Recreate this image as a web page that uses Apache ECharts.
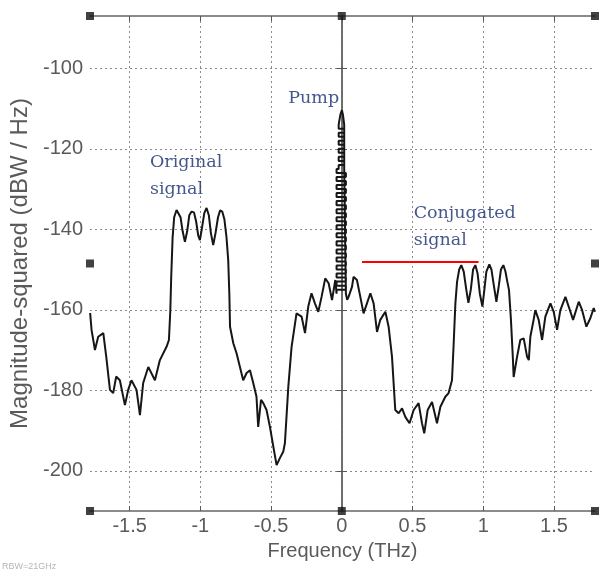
<!DOCTYPE html>
<html>
<head>
<meta charset="utf-8">
<script src="https://cdn.jsdelivr.net/npm/echarts@6/dist/echarts.min.js"></script>
<style>
html,body{margin:0;padding:0;background:#fff;}
#chart{width:604px;height:576px;}
</style>
</head>
<body>
<div id="chart"></div>
<script>
// ---- data ----
const xTicks = [-1.5, -1, -0.5, 0, 0.5, 1, 1.5];
const yTicks = [-200, -180, -160, -140, -120, -100];
const xRange = [-1.78, 1.79];
const yRange = [-210, -87];

// spectrum trace [frequency THz, dBW/Hz]
const spectrum = [
  [-1.779,-160.8],[-1.769,-165.0],[-1.745,-170.0],[-1.722,-166.7],[-1.686,-165.8],[-1.665,-171.7],
  [-1.639,-179.9],[-1.616,-180.7],[-1.595,-176.6],[-1.569,-177.5],[-1.533,-183.7],[-1.510,-179.9],
  [-1.487,-177.5],[-1.451,-179.9],[-1.427,-186.2],[-1.404,-178.2],[-1.368,-174.2],[-1.321,-177.5],
  [-1.286,-172.5],[-1.239,-169.2],[-1.222,-167.5],[-1.212,-160.0],[-1.206,-152.0],[-1.196,-142.0],
  [-1.185,-137.0],[-1.168,-135.2],[-1.155,-135.5],[-1.140,-137.0],[-1.125,-140.5],[-1.109,-143.1],
  [-1.093,-140.5],[-1.078,-136.5],[-1.062,-135.6],[-1.045,-135.8],[-1.030,-138.0],[-1.015,-141.5],
  [-1.003,-142.7],[-0.990,-140.0],[-0.972,-136.0],[-0.956,-134.7],[-0.940,-136.5],[-0.925,-141.0],
  [-0.909,-143.9],[-0.893,-141.0],[-0.875,-137.0],[-0.860,-135.3],[-0.845,-135.6],[-0.830,-137.5],
  [-0.815,-142.0],[-0.803,-147.6],[-0.795,-156.0],[-0.790,-164.2],[-0.767,-168.3],[-0.744,-170.8],
  [-0.720,-174.2],[-0.697,-177.5],[-0.673,-175.7],[-0.649,-175.0],[-0.626,-178.2],[-0.603,-181.6],
  [-0.591,-189.1],[-0.571,-182.4],[-0.555,-183.2],[-0.532,-184.9],[-0.508,-189.1],[-0.484,-194.0],
  [-0.461,-198.6],[-0.437,-196.8],[-0.414,-195.3],[-0.402,-193.1],[-0.378,-179.1],[-0.355,-169.2],
  [-0.320,-160.9],[-0.284,-161.7],[-0.260,-165.8],[-0.237,-159.2],[-0.214,-155.9],[-0.190,-158.4],
  [-0.166,-160.5],[-0.143,-156.8],[-0.117,-152.2],[-0.093,-153.4],[-0.069,-157.6],[-0.046,-152.6],
  [-0.037,-156.0],
  // pump line (dense ladder of the spike)
  [-0.037,-155],[0.029,-155],[0.029,-154],[-0.037,-154],[-0.037,-153],[0.029,-153],[0.029,-152],
  [-0.037,-152],[-0.037,-151],[0.029,-151],[0.029,-150],[-0.037,-150],[-0.037,-149],[0.029,-149],
  [0.029,-148],[-0.037,-148],[-0.037,-147],[0.029,-147],[0.029,-146],[-0.037,-146],[-0.037,-145],
  [0.029,-145],[0.029,-144],[-0.037,-144],[-0.037,-143],[0.029,-143],[0.029,-142],[-0.037,-142],
  [-0.037,-141],[0.029,-141],[0.029,-140],[-0.037,-140],[-0.037,-139],[0.029,-139],[0.029,-138],
  [-0.037,-138],[-0.037,-137],[0.029,-137],[0.029,-136],[-0.037,-136],[-0.037,-135],[0.029,-135],
  [0.029,-134],[-0.037,-134],[-0.037,-133],[0.029,-133],[0.029,-132],[-0.037,-132],[-0.037,-131],
  [0.029,-131],[0.029,-130],[-0.037,-130],[-0.037,-129],[0.029,-129],[0.029,-128],[-0.037,-128],
  [-0.037,-127],[0.029,-127],[0.029,-126],[-0.037,-126],[-0.037,-125],[-0.022,-125],
  [-0.022,-124],[0.017,-124],[0.017,-123],[-0.022,-123],[-0.022,-122],[0.017,-122],[0.017,-121],
  [-0.022,-121],[-0.022,-120],[0.017,-120],[0.017,-119],[-0.022,-119],[-0.022,-118],[0.017,-118],
  [0.017,-117],[-0.022,-117],[-0.022,-116],[0.017,-116],[0.017,-115],[-0.022,-115],[-0.022,-114],
  [-0.010,-111.5],[0.001,-110.4],[0.008,-111.5],[0.017,-114],[0.017,-125],[0.029,-125],
  [0.029,-156],[0.038,-157.5],
  [0.048,-156.8],[0.072,-154.3],[0.083,-151.8],[0.107,-152.6],[0.131,-156.8],[0.154,-160.9],
  [0.178,-158.4],[0.202,-155.9],[0.225,-158.4],[0.249,-165.5],[0.272,-162.5],[0.308,-160.5],
  [0.331,-164.2],[0.355,-171.7],[0.378,-184.9],[0.402,-185.7],[0.426,-184.5],[0.449,-186.6],
  [0.479,-188.2],[0.508,-184.9],[0.543,-183.2],[0.567,-188.2],[0.583,-190.7],[0.607,-184.9],
  [0.638,-182.9],[0.673,-188.2],[0.697,-184.1],[0.732,-181.6],[0.755,-180.7],[0.779,-177.5],
  [0.791,-168.3],[0.803,-158.4],[0.815,-153.0],[0.830,-150.0],[0.845,-148.9],[0.862,-150.5],
  [0.880,-155.0],[0.895,-158.3],[0.912,-155.0],[0.928,-150.0],[0.944,-148.9],[0.960,-151.0],
  [0.976,-156.0],[0.994,-159.2],[1.008,-155.0],[1.022,-150.5],[1.043,-148.7],[1.058,-150.0],
  [1.075,-154.0],[1.093,-158.0],[1.110,-154.0],[1.125,-150.0],[1.142,-148.9],[1.157,-150.5],
  [1.170,-153.0],[1.182,-155.1],[1.195,-162.0],[1.208,-171.0],[1.215,-176.7],[1.239,-171.7],
  [1.262,-167.5],[1.286,-167.1],[1.310,-171.7],[1.322,-172.5],[1.333,-166.7],[1.356,-162.5],
  [1.368,-160.1],[1.392,-162.5],[1.416,-167.5],[1.439,-161.7],[1.475,-158.4],[1.498,-160.5],
  [1.522,-165.0],[1.545,-160.1],[1.581,-156.8],[1.604,-159.2],[1.635,-162.5],[1.675,-158.0],
  [1.699,-160.1],[1.729,-164.2],[1.757,-162.1],[1.781,-159.6],[1.790,-160.5]
];

// red marker line under "Conjugated signal"
const redLine = [[0.143,-148.1],[0.967,-148.1]];

// annotations: [x, y, text]
const notes = [
  [-0.378, -107.5, 'Pump'],
  [-1.356, -126.8, 'Original\nsignal'],
  [0.508, -139.4, 'Conjugated\nsignal']
];

// figure handles (corners / mid-sides of the frame)
const handles = [
  [-1.78,-87],[0.0,-87],[1.79,-87],
  [-1.78,-148.5],[1.79,-148.5],
  [-1.78,-210],[0.0,-210],[1.79,-210]
];

// ---- chart ----
const chart = echarts.init(document.getElementById('chart'), null, {renderer:'canvas'});
const frameLine = {show:true, lineStyle:{color:'#666', width:1.5}};
const tickIn = (vals)=>({show:true, inside:true, length:5, customValues:vals, lineStyle:{color:'#555', width:1}});
const gridLine = {show:true, lineStyle:{color:'#8a8a8a', width:1, type:[2,3]}};
const labelFont = {color:'#5a5a5a', fontSize:20, fontFamily:'Liberation Sans'};

chart.setOption({
  animation:false,
  backgroundColor:'#fff',
  grid:{left:90, right:9, top:16, bottom:65, containLabel:false},
  xAxis:[
    {type:'value', min:xRange[0], max:xRange[1], position:'bottom',
     axisLine:frameLine, axisTick:tickIn(xTicks),
     axisLabel:Object.assign({customValues:xTicks, margin:5}, labelFont),
     splitLine:gridLine,
     name:'Frequency (THz)', nameLocation:'middle', nameGap:30,
     nameTextStyle:{color:'#5a5a5a', fontSize:20, fontFamily:'Liberation Sans'}},
    {type:'value', min:xRange[0], max:xRange[1], position:'top',
     axisLine:frameLine, axisTick:tickIn(xTicks), axisLabel:{show:false}, splitLine:{show:false}}
  ],
  yAxis:[
    {type:'value', min:yRange[0], max:yRange[1], position:'left',
     axisLine:frameLine, axisTick:tickIn(yTicks),
     axisLabel:Object.assign({customValues:yTicks, margin:7}, labelFont),
     splitLine:gridLine,
     name:'Magnitude-squared (dBW / Hz)', nameLocation:'middle', nameGap:52, nameRotate:90,
     nameTextStyle:{color:'#5a5a5a', fontSize:24, fontFamily:'Liberation Sans'}},
    {type:'value', min:yRange[0], max:yRange[1], position:'right',
     axisLine:frameLine, axisTick:tickIn(yTicks), axisLabel:{show:false}, splitLine:{show:false}}
  ],
  series:[
    {type:'line', data:spectrum, showSymbol:false, symbol:'none',
     lineStyle:{color:'#161616', width:2}, z:3},
    {type:'line', data:redLine, showSymbol:false, symbol:'none',
     lineStyle:{color:'#ff0000', width:2}, z:4},
    {type:'scatter', data:notes.map(n=>({value:[n[0],n[1]], name:n[2]})), symbolSize:0,
     label:{show:true, position:'right', distance:0, formatter:p=>p.name,
       fontFamily:'DejaVu Serif', fontSize:17.5, color:'#172d6e', lineHeight:27, align:'left'},
     z:5},
    {type:'scatter', data:handles, symbol:'rect', symbolSize:8, clip:false,
     itemStyle:{color:'#111'}, z:6}
  ],
  graphic:[
    {type:'text', left:2, top:562, style:{text:'RBW=21GHz', fontSize:9, fill:'#b5b5b5', fontFamily:'Liberation Sans'}}
  ]
});
</script>
</body>
</html>
